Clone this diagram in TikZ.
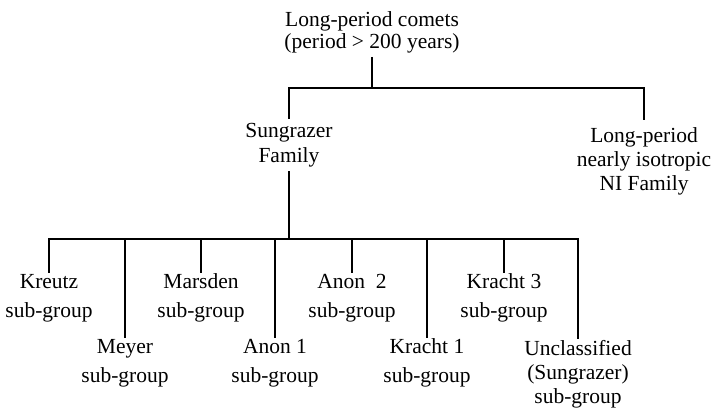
\documentclass[tikz,border=0pt]{standalone}
\usepackage{fontspec}
\setmainfont{Liberation Serif}
\begin{document}
\begin{tikzpicture}[x=1pt,y=-1pt,
  lbl/.style={font=\fontsize{21.5}{25}\selectfont, align=center, inner sep=0pt},
  conn/.style={line width=1.6pt, line join=miter}]
\useasboundingbox (0,0) rectangle (714,411);
\node[lbl, font=\fontsize{21.5}{22}\selectfont] (top) at (372,32) {Long-period comets\\(period > 200 years)};
\node[lbl] (sung) at (289,145) {Sungrazer\\Family};
\node[lbl, font=\fontsize{21.5}{24}\selectfont] (ni) at (644,161) {Long-period\\nearly isotropic\\NI Family};
\coordinate (b1) at (372,88);
\coordinate (b2) at (289,239);
\node[lbl, font=\fontsize{21.5}{29}\selectfont] (kreutz) at (49,298) {Kreutz\\sub-group};
\node[lbl, font=\fontsize{21.5}{29}\selectfont] (meyer) at (125,363) {Meyer\\sub-group};
\node[lbl, font=\fontsize{21.5}{29}\selectfont] (marsden) at (201,298) {Marsden\\sub-group};
\node[lbl, font=\fontsize{21.5}{29}\selectfont] (anon1) at (275,363) {Anon 1\\sub-group};
\node[lbl, font=\fontsize{21.5}{29}\selectfont] (anon2) at (352,298) {Anon\ \ 2\\sub-group};
\node[lbl, font=\fontsize{21.5}{29}\selectfont] (kracht1) at (427,363) {Kracht 1\\sub-group};
\node[lbl, font=\fontsize{21.5}{29}\selectfont] (kracht3) at (504,298) {Kracht 3\\sub-group};
\node[lbl, font=\fontsize{21.5}{24}\selectfont] (uncl) at (578,374) {Unclassified\\(Sungrazer)\\sub-group};
\draw[conn, shorten <=4pt] (top.south) -- (b1);
\draw[conn, shorten >=4pt] (b1) -| (sung.north);
\draw[conn, shorten >=7pt] (b1) -| (ni.north);
\draw[conn, shorten <=4pt] (sung.south) -- (b2);
\foreach \n in {kreutz,meyer,marsden,anon1,anon2,kracht1,kracht3,uncl}
  \draw[conn, shorten >=1pt] (b2) -| (\n.north);
\end{tikzpicture}
\end{document}
